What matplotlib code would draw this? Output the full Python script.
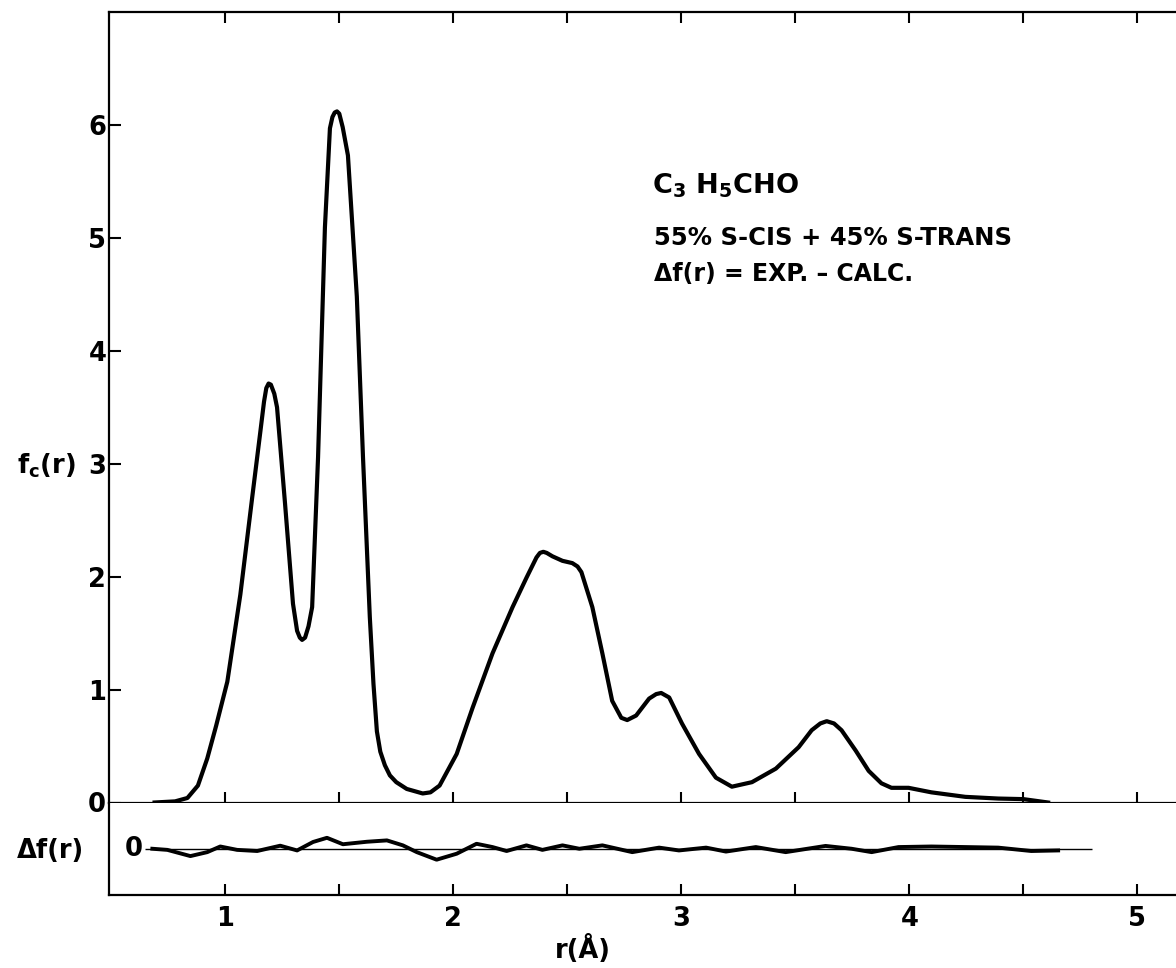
import matplotlib
matplotlib.use("Agg")
import matplotlib.pyplot as plt

# kurva f_c(r) hasil pembacaan gambar
r_fc = [0.69, 0.78, 0.834, 0.88, 0.921, 0.96, 1.009, 1.066, 1.118, 1.153, 1.17, 1.18, 1.19,
        1.20, 1.215, 1.227, 1.262, 1.297, 1.315, 1.327, 1.337, 1.35, 1.365, 1.381, 1.407,
        1.437, 1.459, 1.47, 1.48, 1.49, 1.50, 1.515, 1.538, 1.577, 1.604, 1.634, 1.65,
        1.665, 1.68, 1.70, 1.722, 1.75, 1.796, 1.866, 1.90, 1.94, 2.015, 2.085, 2.172,
        2.26, 2.321, 2.365, 2.38, 2.395, 2.41, 2.435, 2.479, 2.522, 2.545, 2.562, 2.61,
        2.654, 2.697, 2.737, 2.763, 2.802, 2.859, 2.89, 2.912, 2.947, 3.003, 3.078, 3.152,
        3.222, 3.31, 3.415, 3.515, 3.572, 3.61, 3.638, 3.67, 3.703, 3.765, 3.822, 3.878,
        3.922, 3.997, 4.097, 4.246, 4.39, 4.50, 4.609]
fc = [0.0, 0.01, 0.04, 0.15, 0.39, 0.68, 1.07, 1.84, 2.70, 3.27, 3.55, 3.67, 3.71,
      3.70, 3.62, 3.50, 2.65, 1.76, 1.52, 1.46, 1.44, 1.46, 1.56, 1.73, 3.06,
      5.09, 5.97, 6.07, 6.11, 6.12, 6.10, 5.98, 5.73, 4.48, 3.06, 1.64, 1.05,
      0.63, 0.45, 0.33, 0.24, 0.18, 0.12, 0.08, 0.09, 0.15, 0.43, 0.84, 1.32,
      1.73, 1.99, 2.17, 2.21, 2.22, 2.21, 2.18, 2.14, 2.12, 2.09, 2.04, 1.73,
      1.32, 0.90, 0.75, 0.73, 0.77, 0.92, 0.96, 0.97, 0.93, 0.70, 0.43, 0.22,
      0.14, 0.18, 0.30, 0.49, 0.64, 0.70, 0.72, 0.70, 0.64, 0.46, 0.28, 0.17,
      0.13, 0.13, 0.09, 0.05, 0.035, 0.03, 0.0]

# kurva selisih delta f(r) = EXP. - CALC.
r_df = [0.68, 0.746, 0.847, 0.921, 0.978, 1.052, 1.14, 1.241, 1.315, 1.385, 1.446, 1.516,
        1.621, 1.709, 1.779, 1.84, 1.927, 2.015, 2.102, 2.172, 2.234, 2.321, 2.391, 2.479,
        2.553, 2.654, 2.785, 2.903, 2.99, 3.109, 3.196, 3.327, 3.458, 3.633, 3.747, 3.835,
        3.953, 4.097, 4.246, 4.39, 4.535, 4.653]
df = [0.0, -0.01, -0.065, -0.03, 0.02, -0.01, -0.02, 0.027, -0.015, 0.06, 0.097, 0.04,
      0.062, 0.074, 0.03, -0.03, -0.097, -0.044, 0.044, 0.015, -0.02, 0.03, -0.01, 0.03,
      0.0, 0.03, -0.03, 0.01, -0.015, 0.01, -0.025, 0.015, -0.03, 0.025, 0.0, -0.03,
      0.015, 0.02, 0.015, 0.01, -0.02, -0.015]
garis_nol = (0.65, 4.80)  # rentang garis acuan nol

x_ticks = [1, 1.5, 2, 2.5, 3, 3.5, 4, 4.5, 5]
x_labels = ["1", "", "2", "", "3", "", "4", "", "5"]
y_ticks = [0, 1, 2, 3, 4, 5, 6]

plt.rcParams["font.family"] = "DejaVu Sans"
plt.rcParams["font.weight"] = "bold"
plt.rcParams["mathtext.fontset"] = "dejavusans"
plt.rcParams["mathtext.default"] = "bf"

W, H = 1176, 968
fig = plt.figure(figsize=(W / 100, H / 100), dpi=100)

def kotak(x0, y_atas, x1, y_bawah):
    return [x0 / W, 1 - y_bawah / H, (x1 - x0) / W, (y_bawah - y_atas) / H]

ax = fig.add_axes(kotak(109, 12, W, 802.5))
ax2 = fig.add_axes(kotak(109, 802.5, W, 895))

ax.plot(r_fc, fc, color="black", lw=3.0, solid_joinstyle="round")
ax.set_xlim(0.49, 5.17)
ax.set_ylim(0, 7.0)
ax.set_xticks(x_ticks)
ax.set_yticks(y_ticks)
ax.tick_params(axis="x", direction="in", top=True, bottom=True, length=8, width=1.5,
               labelbottom=False)
ax.tick_params(axis="y", direction="in", length=8.5, width=1.5, pad=2, labelsize=18.5)
ax.spines["right"].set_visible(False)
for s in ["left", "top", "bottom"]:
    ax.spines[s].set_linewidth(1.6)

ax2.hlines(0, garis_nol[0], garis_nol[1], color="black", lw=1.0)
ax2.plot(r_df, df, color="black", lw=2.8, solid_joinstyle="round")
ax2.set_xlim(0.49, 5.17)
ax2.set_ylim(-0.41, 0.41)
ax2.set_xticks(x_ticks)
ax2.set_xticklabels(x_labels)
ax2.set_yticks([])
ax2.tick_params(axis="x", direction="in", length=8, width=1.5, pad=8, labelsize=18.5)
ax2.spines["right"].set_visible(False)
ax2.spines["top"].set_visible(False)
for s in ["left", "bottom"]:
    ax2.spines[s].set_linewidth(1.6)
ax2.text(0.60, 0, "0", ha="center", va="center", fontsize=18.5)

# keterangan
ax.text(2.87, 5.46, r"C$_{3}$ H$_{5}$CHO", fontsize=19.5, ha="left", va="center")
ax.text(2.88, 5.0, "55% S-CIS + 45% S-TRANS", fontsize=17.5, ha="left", va="center")
ax.text(2.88, 4.68, "Δf(r) = EXP. – CALC.", fontsize=17, ha="left", va="center")

# label sumbu
fig.text(17 / W, 1 - 466 / H, r"f$_{c}$(r)", fontsize=18.5, ha="left", va="center")
fig.text(17 / W, 1 - 851 / H, "Δf(r)", fontsize=18.5, ha="left", va="center")
fig.text(583 / W, 1 - 949 / H, "r(Å)", fontsize=18.5, ha="center", va="center")

fig.savefig("out.png", dpi=100)
